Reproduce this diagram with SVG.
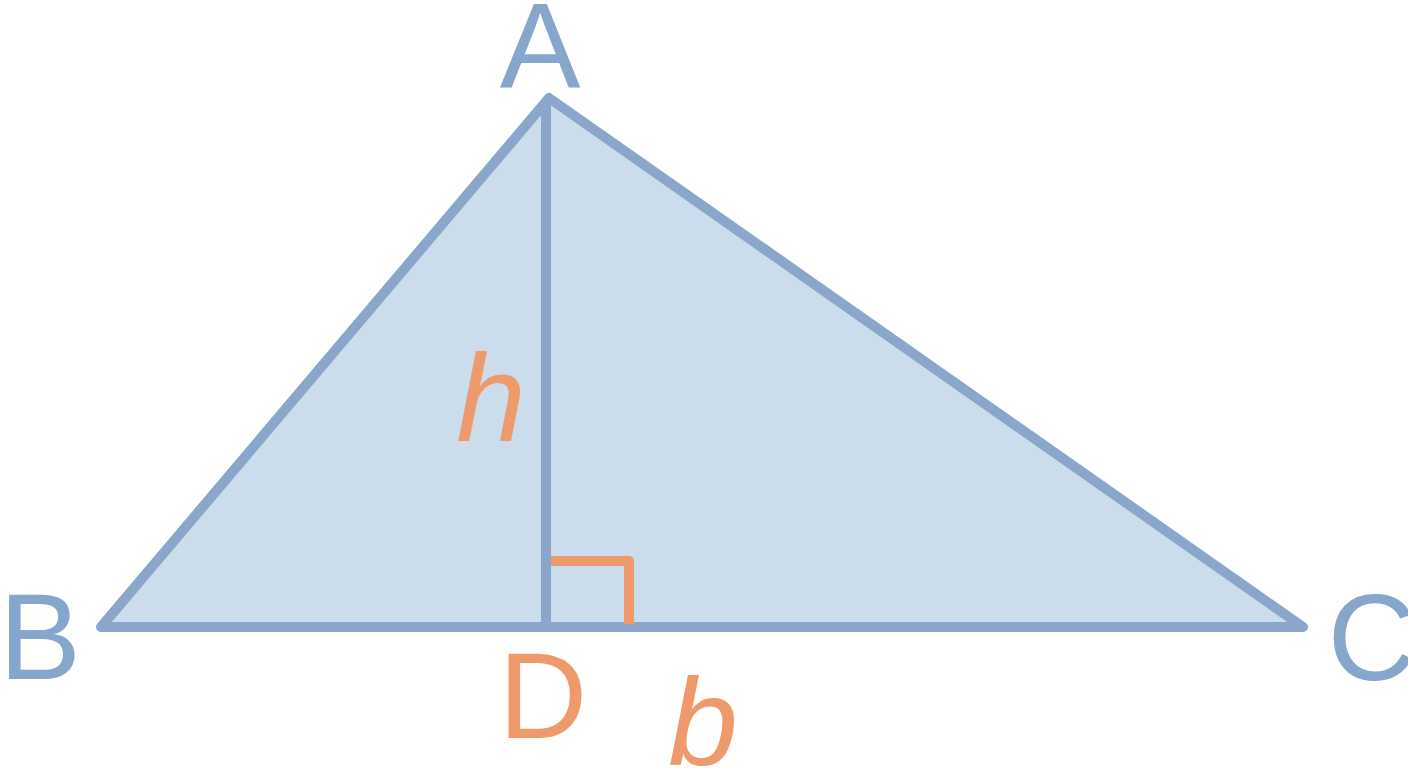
<svg xmlns="http://www.w3.org/2000/svg" width="1408" height="768" viewBox="0 0 1408 768">
<style>
.edge{stroke:#8aa7cb;stroke-width:10;stroke-linecap:round;stroke-linejoin:round;fill:none}
.lblB{font-family:"Liberation Sans",Arial,sans-serif;fill:#87a6cc;text-anchor:middle}
.lblO{font-family:"Liberation Sans",Arial,sans-serif;fill:#ef9a6c;text-anchor:middle}
</style>
<rect width="1408" height="768" fill="#ffffff"/>
<g id="triangle">
<polygon points="549,98 101,627 1303,627" fill="#cbdcec" stroke="#8aa7cb" stroke-width="10" stroke-linejoin="round"/>
</g>
<g id="connectors">
<line class="edge" x1="546" y1="102" x2="546" y2="625" stroke-linecap="butt"/>
<path d="M551,561 H629 V624" fill="none" stroke="#ef9a6c" stroke-width="10" stroke-linejoin="round"/>
</g>
<g id="labels">
<text class="lblB" x="540" y="87" font-size="121">A</text>
<text class="lblB" x="40" y="679" font-size="123">B</text>
<text class="lblB" x="1372" y="680" font-size="123">C</text>
<text class="lblO" x="543" y="738" font-size="123">D</text>
<text class="lblO" x="491" y="441" font-size="125" font-style="italic">h</text>
<text class="lblO" x="703" y="765" font-size="125" font-style="italic">b</text>
</g>
</svg>
